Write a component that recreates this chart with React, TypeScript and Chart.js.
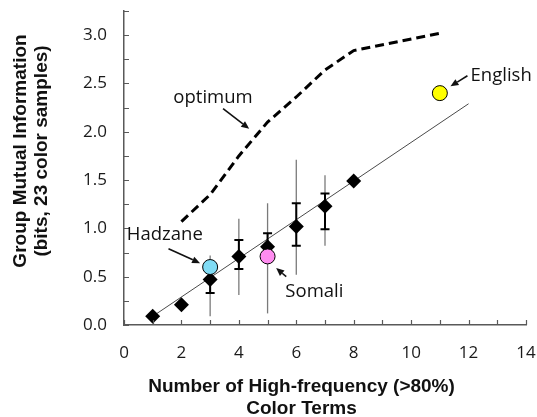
import React, { useEffect, useRef } from 'react';
import { Chart, registerables } from 'chart.js';

Chart.register(...registerables);

// Mean group mutual information vs number of high-frequency colour terms
const termCounts = [1, 2, 3, 4, 5, 6, 7, 8];
const meanInfo = [0.09, 0.21, 0.47, 0.71, 0.81, 1.02, 1.23, 1.49];

// Error bars (for x = 3..7)
const errTerms = [3, 4, 5, 6, 7];
const seLow = [0.33, 0.58, 0.67, 0.82, 0.99];
const seHigh = [0.61, 0.88, 0.95, 1.26, 1.36];
const rangeLow = [0.09, 0.31, 0.12, 0.52, 0.82];
const rangeHigh = [0.72, 1.1, 1.26, 1.71, 1.55];

// Optimum curve
const optimumTerms = [2, 3, 4, 5, 6, 7, 8, 11];
const optimumInfo = [1.07, 1.35, 1.75, 2.1, 2.36, 2.64, 2.84, 3.02];

// Linear fit
const fitTerms = [1, 12];
const fitInfo = [0.09, 2.29];

// Languages
const languages = ['Hadzane', 'Somali', 'English'];
const langTerms = [3, 5, 11];
const langInfo = [0.6, 0.71, 2.4];
const langColors = ['#80dcf5', '#ff8cf0', '#ffff00'];

// Annotations (data coordinates)
const annoText = ['optimum', 'English', 'Hadzane', 'Somali'];
const annoPos: [number, number][] = [[3.1, 2.35], [12.07, 2.58], [0.1, 0.93], [5.62, 0.34]];
const annoAlign = ['center', 'left', 'left', 'left'];
const arrowFrom: [number, number][] = [[3.45, 2.24], [11.96, 2.58], [1.55, 0.79], [5.65, 0.5]];
const arrowTo: [number, number][] = [[4.36, 2.03], [11.37, 2.47], [2.65, 0.64], [5.3, 0.59]];

const xTitle = ['Number of High-frequency (>80%)', 'Color Terms'];
const yTitle = ['Group Mutual Information', '(bits, 23 color samples)'];

const DIAMOND_INDEX = 2;

const decorPlugin = {
  id: 'decor',
  beforeDatasetDraw(chart: any, args: any) {
    if (args.index !== DIAMOND_INDEX) return;
    const { ctx, scales } = chart;
    const xs = scales.x, ys = scales.y;
    ctx.save();
    ctx.strokeStyle = '#7a7a7a';
    ctx.lineWidth = 1.3;
    errTerms.forEach((t, i) => {
      const px = xs.getPixelForValue(t);
      ctx.beginPath();
      ctx.moveTo(px, ys.getPixelForValue(rangeLow[i]));
      ctx.lineTo(px, ys.getPixelForValue(rangeHigh[i]));
      ctx.stroke();
    });
    ctx.strokeStyle = '#000';
    ctx.lineWidth = 2;
    errTerms.forEach((t, i) => {
      const px = xs.getPixelForValue(t);
      const lo = ys.getPixelForValue(seLow[i]);
      const hi = ys.getPixelForValue(seHigh[i]);
      ctx.beginPath();
      ctx.moveTo(px, lo);
      ctx.lineTo(px, hi);
      ctx.moveTo(px - 4.5, lo);
      ctx.lineTo(px + 4.5, lo);
      ctx.moveTo(px - 4.5, hi);
      ctx.lineTo(px + 4.5, hi);
      ctx.stroke();
    });
    ctx.restore();
  },
  afterDraw(chart: any) {
    const { ctx, scales, chartArea } = chart;
    const xs = scales.x, ys = scales.y;
    ctx.save();
    ctx.strokeStyle = '#595959';
    ctx.lineWidth = 1.2;
    ctx.beginPath();
    for (let v = 0; v <= 3.25 + 1e-9; v += 0.25) {
      const py = Math.round(ys.getPixelForValue(v)) + 0.5;
      ctx.moveTo(chartArea.left, py);
      ctx.lineTo(chartArea.left + 5, py);
    }
    for (let v = 0; v <= 14; v += 1) {
      const px = Math.round(xs.getPixelForValue(v)) + 0.5;
      ctx.moveTo(px, chartArea.bottom);
      ctx.lineTo(px, chartArea.bottom - 5);
    }
    ctx.stroke();

    ctx.fillStyle = '#111';
    ctx.font = '18.5px "Open Sans"';
    ctx.textBaseline = 'middle';
    annoText.forEach((t, i) => {
      ctx.textAlign = annoAlign[i] as CanvasTextAlign;
      ctx.fillText(t, xs.getPixelForValue(annoPos[i][0]), ys.getPixelForValue(annoPos[i][1]));
      const x1 = xs.getPixelForValue(arrowFrom[i][0]);
      const y1 = ys.getPixelForValue(arrowFrom[i][1]);
      const x2 = xs.getPixelForValue(arrowTo[i][0]);
      const y2 = ys.getPixelForValue(arrowTo[i][1]);
      const ang = Math.atan2(y2 - y1, x2 - x1);
      const head = 8;
      const bx = x2 - head * Math.cos(ang);
      const by = y2 - head * Math.sin(ang);
      ctx.strokeStyle = '#111';
      ctx.lineWidth = 1.6;
      ctx.beginPath();
      ctx.moveTo(x1, y1);
      ctx.lineTo(bx, by);
      ctx.stroke();
      ctx.beginPath();
      ctx.moveTo(x2, y2);
      ctx.lineTo(bx + 3.5 * Math.sin(ang), by - 3.5 * Math.cos(ang));
      ctx.lineTo(bx - 3.5 * Math.sin(ang), by + 3.5 * Math.cos(ang));
      ctx.closePath();
      ctx.fill();
    });

    ctx.font = 'bold 19px "Liberation Sans", Arial, sans-serif';
    ctx.textAlign = 'center';
    ctx.textBaseline = 'alphabetic';
    ctx.fillStyle = '#111';
    ctx.fillText(xTitle[0], 301.5, 392);
    ctx.fillText(xTitle[1], 301.5, 414);
    ctx.translate(0, 151);
    ctx.rotate(-Math.PI / 2);
    ctx.fillText(yTitle[0], 0, 26);
    ctx.fillText(yTitle[1], 0, 47);
    ctx.restore();
  },
};

const zeroPad = (s: any) => {
  s.paddingTop = 0;
  s.paddingBottom = 0;
  s.paddingLeft = 0;
  s.paddingRight = 0;
};

export default function App() {
  const canvasRef = useRef<HTMLCanvasElement | null>(null);

  useEffect(() => {
    document.body.style.margin = '0';
    const canvas = canvasRef.current;
    if (!canvas) return;
    const toPts = (xs: number[], ys: number[]) => xs.map((x, i) => ({ x, y: ys[i] }));
    const chart = new Chart(canvas, {
      type: 'scatter',
      data: {
        datasets: [
          {
            label: 'Languages',
            data: toPts(langTerms, langInfo),
            pointStyle: 'circle',
            pointRadius: 7.5,
            pointBackgroundColor: langColors,
            pointBorderColor: '#000',
            pointBorderWidth: 1,
            showLine: false,
            order: 0,
          } as any,
          {
            label: 'optimum',
            data: toPts(optimumTerms, optimumInfo),
            showLine: true,
            borderColor: '#000',
            borderWidth: 3,
            borderDash: [9, 5],
            pointRadius: 0,
            tension: 0,
            order: 1,
          },
          {
            label: 'mean',
            data: toPts(termCounts, meanInfo),
            pointStyle: 'rectRot',
            pointRadius: 7.5,
            pointBackgroundColor: '#000',
            pointBorderColor: '#000',
            pointBorderWidth: 0,
            showLine: false,
            order: 2,
          },
          {
            label: 'fit',
            data: toPts(fitTerms, fitInfo),
            showLine: true,
            borderColor: '#4a4a4a',
            borderWidth: 1,
            pointRadius: 0,
            order: 3,
          },
        ],
      },
      options: {
        animation: false,
        responsive: false,
        devicePixelRatio: 1,
        layout: { padding: { top: 11, right: 11, left: 0, bottom: 0 } },
        plugins: { legend: { display: false }, tooltip: { enabled: false } },
        scales: {
          x: {
            type: 'linear',
            min: 0,
            max: 14,
            grid: { display: false, drawTicks: false },
            border: { display: true, color: '#595959', width: 1.5 },
            ticks: {
              stepSize: 2,
              padding: 18,
              color: '#1a1a1a',
              font: { family: 'Open Sans', size: 17 },
              callback: (v: any) => String(v),
            },
            afterFit: (s: any) => { s.height = 92; zeroPad(s); },
          },
          y: {
            type: 'linear',
            min: 0,
            max: 3.25,
            grid: { display: false, drawTicks: false },
            border: { display: true, color: '#595959', width: 1.5 },
            ticks: {
              stepSize: 0.5,
              padding: 17,
              color: '#1a1a1a',
              font: { family: 'Open Sans', size: 17 },
              callback: (v: any) => {
                const n = Number(v);
                return Math.abs(n * 2 - Math.round(n * 2)) < 1e-9 ? n.toFixed(1) : '';
              },
            },
            afterFit: (s: any) => { s.width = 124; zeroPad(s); },
          },
        },
      },
      plugins: [decorPlugin],
    });
    return () => chart.destroy();
  }, []);

  return (
    <div style={{ width: 537, height: 417 }}>
      <canvas ref={canvasRef} width={537} height={417} style={{ display: 'block' }} />
    </div>
  );
}
